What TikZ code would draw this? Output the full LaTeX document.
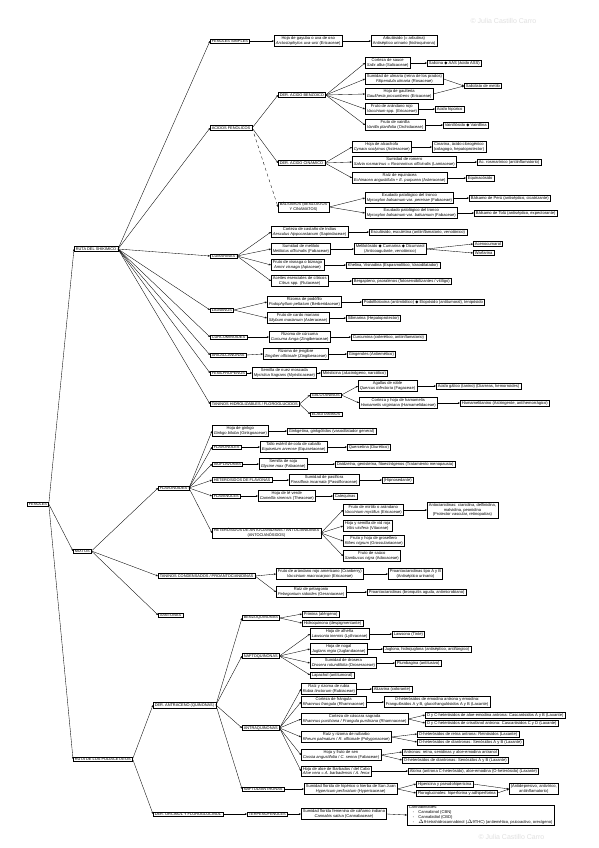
\documentclass[tikz,border=0pt]{standalone}
\usepackage{fontspec}
\setmainfont{Liberation Sans}
\newfontfamily\symf{DejaVu Sans}
\usetikzlibrary{arrows.meta,shadows}
\newcommand\dm{{\symf\char"25C6}}
\newcommand\lnk[2]{\draw[arr] (#1.east) -- (#2.west);}
\tikzset{
 bx/.style={draw, line width=0.35pt, fill=white, align=center, inner xsep=1.6pt, inner ysep=1.1pt,
   font=\fontsize{4.1}{4.8}\selectfont, anchor=west,
   drop shadow={shadow xshift=0.5pt, shadow yshift=-0.5pt, fill=black!40, opacity=1}},
 ct/.style={bx, inner ysep=0.9pt, font=\fontsize{3.9}{4.6}\selectfont},
 arr/.style={line width=0.35pt, -{Stealth[length=2.2pt,width=1.8pt]}},
 wm/.style={text=black!12, font=\fontsize{7}{8}\selectfont, anchor=west},
}
\begin{document}
\begin{tikzpicture}[x=1pt,y=-1pt]
\useasboundingbox[fill=white] (0,0) rectangle (599,848);
\node[wm] (wm1) at (467,21) {© Julia Castillo Carro};
\node[wm] (wm2) at (475,837) {© Julia Castillo Carro};
% ---------------- root and level 1
\node[ct] (fen) at (27,504) {FENOLES};
\node[ct] (vs) at (74,249) {RUTA DEL SHIKÍMICO};
\node[ct] (mx) at (73,551) {MIXTOS};
\node[ct] (pa) at (73,759) {RUTA DE LOS POLIACETATOS};
\lnk{fen}{vs}\lnk{fen}{mx}\lnk{fen}{pa}
% ---------------- shikimico
\node[ct] (fs) at (210,41) {FENOLES SIMPLES};
\node[ct] (af) at (210,128) {ÁCIDOS FENÓLICOS};
\node[ct] (cu) at (210,256) {CUMARINAS};
\node[ct] (li) at (210,310) {LIGNANOS};
\node[ct] (dh) at (210,337) {CURCUMINOIDES};
\node[ct] (aa) at (210,355) {ARILALCANONAS};
\node[ct] (fp) at (210,373) {FENILPROPENOS};
\node[ct] (th) at (210,404) {TANINOS HIDROLIZABLES / FLOROGLÚCIDOS};
\foreach \n in {fs,af,cu,li,dh,aa,fp,th} {\lnk{vs}{\n}}
% fenoles simples
\node[bx] (gay) at (274,41) {Hoja de gayuba o uva de oso\\\textit{Arctostaphylos uva-ursi} (Ericaceae)};
\node[bx] (arb) at (371,41) {Arbutósido (= arbutina)\\Antiséptico urinario (hidroquinona)};
\lnk{fs}{gay}\lnk{gay}{arb}
% acidos fenolicos
\node[ct] (dab) at (278,95) {DER. ÁCIDO BENZOICO};
\node[ct] (dac) at (278,163) {DER. ÁCIDO CINÁMICO};
\node[ct] (bal) at (278,207) {BÁLSAMOS (BENZOATOS\\Y CINAMATOS)};
\lnk{af}{dab}\lnk{af}{dac}
\draw[arr,dashed] (af.east) -- (bal.west);
\node[bx] (b1) at (365,63) {Corteza de sauce\\\textit{Salix alba} (Salicaceae)};
\node[bx] (b2) at (365,79) {Sumidad de ulmaria (reina de los prados)\\\textit{Filipendula ulmaria} (Rosaceae)};
\node[bx] (b3) at (365,94) {Hoja de gaulteria\\\textit{Gaultheria procumbens} (Ericaceae)};
\node[bx] (b4) at (365,109) {Fruto de arándano rojo\\\textit{Vaccinium} spp. (Ericaceae)};
\node[bx] (b5) at (365,125) {Fruto de vainilla\\\textit{Vanilla planifolia} (Orchidaceae)};
\node[bx] (r1) at (427,63) {Salicina \dm{} AAS (ácido ASS)};
\node[bx] (r2) at (464,86) {Salicilato de metilo};
\node[bx] (r4) at (435,109) {Ácido hipúrico};
\node[bx] (r5) at (443,125) {Vainillósido \dm{} Vainillina};
\foreach \n in {b1,b2,b3,b4,b5} {\lnk{dab}{\n}}
\lnk{b1}{r1}\lnk{b2}{r2}\lnk{b3}{r2}\lnk{b4}{r4}\lnk{b5}{r5}
\node[bx] (c1) at (352,147) {Hoja de alcachofa\\\textit{Cynara scolymus} (Asteraceae)};
\node[bx] (c2) at (352,162) {Sumidad de romero\\\textit{Salvia rosmarinus} = \textit{Rosmarinus officinalis} (Lamiaceae)};
\node[bx] (c3) at (352,178) {Raíz de equinácea\\\textit{Echinacea angustifolia} + \textit{E. purpurea} (Asteraceae)};
\node[bx] (rc1) at (432,147) {Cinarina, ácido clorogénico\\(colagogo, hepatoprotector)};
\node[bx] (rc2) at (477,162) {Ác. rosmarínico (antiinflamatorio)};
\node[bx] (rc3) at (466,178) {Equinacósido};
\foreach \n in {c1,c2,c3} {\lnk{dac}{\n}}
\lnk{c1}{rc1}\lnk{c2}{rc2}\lnk{c3}{rc3}
\node[bx] (l1) at (365,198) {Exudado patológico del tronco\\\textit{Myroxylon balsamum} var. \textit{pereirae} (Fabaceae)};
\node[bx] (l2) at (365,213) {Exudado patológico del tronco\\\textit{Myroxylon balsamum} var. \textit{balsamum} (Fabaceae)};
\node[bx] (rl1) at (469,198) {Bálsamo de Perú (antiséptico, cicatrizante)};
\node[bx] (rl2) at (474,213) {Bálsamo de Tolú (antiséptico, expectorante)};
\lnk{bal}{l1}\lnk{bal}{l2}\lnk{l1}{rl1}\lnk{l2}{rl2}
% cumarinas
\node[bx] (cu1) at (271,232) {Corteza de castaño de Indias\\\textit{Aesculus hippocastanum} (Sapindaceae)};
\node[bx] (cu2) at (271,249) {Sumidad de meliloto\\\textit{Melilotus officinalis} (Fabaceae)};
\node[bx] (cu3) at (271,265) {Fruto de visnaga o biznaga\\\textit{Ammi visnaga} (Apiaceae)};
\node[bx] (cu4) at (271,281) {Aceites esenciales de cítricos\\\textit{Citrus} spp. (Rutaceae)};
\node[bx] (rcu1) at (369,232) {Esculósido, esculetina (antiinflamatorio, venotónico)};
\node[bx] (rcu2) at (354,249) {Melilotósido \dm{} Cumarina \dm{} Dicumarol\\(Anticoagulante, venotónico)};
\node[bx] (acen) at (473,244) {Acenocumarol};
\node[bx] (warf) at (473,253) {Warfarina};
\node[bx] (rcu3) at (346,265) {Khelina, Visnadina (Espasmolítico, Vasodilatador)};
\node[bx] (rcu4) at (352,281) {Bergapteno, psoralenos (fotosensibilizantes / vitíligo)};
\foreach \n in {cu1,cu2,cu3,cu4} {\lnk{cu}{\n}}
\lnk{cu1}{rcu1}\lnk{cu2}{rcu2}\lnk{rcu2}{acen}\lnk{rcu2}{warf}\lnk{cu3}{rcu3}\lnk{cu4}{rcu4}
% lignanos etc
\node[bx] (li1) at (267,302) {Rizoma de podófilo\\\textit{Podophyllum peltatum} (Berberidaceae)};
\node[bx] (li2) at (267,318) {Fruto de cardo mariano\\\textit{Silybum marianum} (Asteraceae)};
\node[bx] (rli1) at (362,302) {Podofilotoxina (antimitótico) \dm{} Etopósido (antitumoral), tenipósido};
\node[bx] (rli2) at (346,318) {Silimarina (Hepatoprotector)};
\lnk{li}{li1}\lnk{li}{li2}\lnk{li1}{rli1}\lnk{li2}{rli2}
\node[bx] (dh1) at (269,337) {Rizoma de cúrcuma\\\textit{Curcuma longa} (Zingiberaceae)};
\node[bx] (rdh) at (351,337) {Curcumina (colerético, antiinflamatorio)};
\lnk{dh}{dh1}\lnk{dh1}{rdh}
\node[bx] (aa1) at (263,354) {Rizoma de jengibre\\\textit{Zingiber officinale} (Zingiberaceae)};
\node[bx] (raa) at (347,354) {Gingeroles (Antiemético)};
\lnk{aa}{aa1}\lnk{aa1}{raa}
\node[bx] (fp1) at (252,373) {Semilla de nuez moscada\\\textit{Myristica fragrans} (Myristicaceae)};
\node[bx] (rfp) at (321,373) {Miristicina (alucinógeno, narcótico)};
\lnk{fp}{fp1}\lnk{fp1}{rfp}
% taninos hidrolizables
\node[ct] (gal) at (310,395) {GALOTANINOS};
\node[ct] (ela) at (310,414) {ELAGITANINOS};
\lnk{th}{gal}\lnk{th}{ela}
\node[bx] (g1) at (358,386) {Agallas de roble\\\textit{Quercus infectoria} (Fagaceae)};
\node[bx] (g2) at (359,403) {Corteza y hoja de hamamelis\\\textit{Hamamelis virginiana} (Hamamelidaceae)};
\node[bx] (rg1) at (436,386) {Ácido gálico (tanino) (Diarreas, hemorroides)};
\node[bx] (rg2) at (460,403) {Hamamelitanino (Astringente, antihemorrágico)};
\lnk{gal}{g1}\lnk{gal}{g2}\lnk{g1}{rg1}\lnk{g2}{rg2}
% ---------------- mixtos
\node[ct] (fla) at (158,488) {FLAVONOIDES};
\node[ct] (tc) at (158,576) {TANINOS CONDENSADOS / PROANTOCIANIDINAS};
\node[ct] (xa) at (158,615) {XANTONAS};
\lnk{mx}{fla}\lnk{mx}{tc}\lnk{mx}{xa}
\node[bx] (f1) at (212,431) {Hoja de ginkgo\\\textit{Ginkgo biloba} (Ginkgoaceae)};
\node[ct] (f2) at (212,447) {FLAVONOLES};
\node[ct] (f3) at (212,464) {ISOFLAVONAS};
\node[ct] (f4) at (212,480) {HETERÓSIDOS DE FLAVONAS};
\node[ct] (f5) at (212,496) {FLAVANOLES};
\node[ct] (f6) at (212,533) {HETERÓSIDOS DE ANTOCIANIDINAS / ANTOCIANIDINAS\\(ANTOCIANÓSIDOS)};
\foreach \n in {f1,f2,f3,f4,f5,f6} {\lnk{fla}{\n}}
\node[bx] (rf1) at (287,431) {Ginkgetina, ginkgólidos (vasodilatador general)};
\node[bx] (f2a) at (260,447) {Tallo estéril de cola de caballo\\\textit{Equisetum arvense} (Equisetaceae)};
\node[bx] (f2r) at (347,447) {Quercetina (Diurético)};
\node[bx] (f3a) at (259,464) {Semilla de soja\\\textit{Glycine max} (Fabaceae)};
\node[bx] (f3r) at (335,464) {Daidzeína, genisteína, fitoestrógenos (Tratamiento menopausia)};
\node[bx] (f4a) at (289,480) {Sumidad de pasiflora\\\textit{Passiflora incarnata} (Passifloraceae)};
\node[bx] (f4r) at (382,480) {(Hipnosedante)};
\node[bx] (f5a) at (258,496) {Hoja de té verde\\\textit{Camellia sinensis} (Theaceae)};
\node[bx] (f5r) at (333,496) {Catequinas};
\lnk{f1}{rf1}\lnk{f2}{f2a}\lnk{f2a}{f2r}\lnk{f3}{f3a}\lnk{f3a}{f3r}
\lnk{f4}{f4a}\lnk{f4a}{f4r}\lnk{f5}{f5a}\lnk{f5a}{f5r}
\node[bx] (a1) at (343,510) {Fruto de mirtilo o arándano\\\textit{Vaccinium myrtillus} (Ericaceae)};
\node[bx] (a2) at (343,526) {Hoja y semilla de vid roja\\\textit{Vitis vinifera} (Vitaceae)};
\node[bx] (a3) at (343,541) {Fruto y hoja de grosellero\\\textit{Ribes nigrum} (Grossulariaceae)};
\node[bx] (a4) at (343,556) {Fruto de saúco\\\textit{Sambucus nigra} (Adoxaceae)};
\node[bx] (ra1) at (427,510) {Antocianidinas: cianidina, delfinidina,\\malvidina, peonidina\\(Protector vascular, retinopatías)};
\foreach \n in {a1,a2,a3,a4} {\lnk{f6}{\n}}
\lnk{a1}{ra1}
\node[bx] (t1) at (276,574) {Fruto de arándano rojo americano (Cranberry)\\\textit{Vaccinium macrocarpon} (Ericaceae)};
\node[bx] (t2) at (276,592) {Raíz de pelargonio\\\textit{Pelargonium sidoides} (Geraniaceae)};
\node[bx] (rt1) at (388,574) {Proantocianidinas tipo A y B\\(Antiséptico urinario)};
\node[bx] (rt2) at (367,592) {Proantocianidinas (bronquitis aguda, antimicrobiano)};
\lnk{tc}{t1}\lnk{tc}{t2}\lnk{t1}{rt1}\lnk{t2}{rt2}
% ---------------- poliacetatos
\node[ct] (dan) at (153,705) {DER. ANTRACENO (QUINONAS)};
\node[ct] (dof) at (153,814) {DER. ORCINOL Y FLOROGLUCINOL};
\lnk{pa}{dan}\lnk{pa}{dof}
\node[ct] (bq) at (242,618) {BENZOQUINONAS};
\node[ct] (nq) at (242,656) {NAFTOQUINONAS};
\node[ct] (aq) at (242,728) {ANTRAQUINONAS};
\node[ct] (nd) at (242,789) {NAFTODIANTRONAS};
\foreach \n in {bq,nq,aq,nd} {\lnk{dan}{\n}}
\node[bx] (bq1) at (302,614) {Primina (alérgeno)};
\node[bx] (bq2) at (302,623) {Hidroquinona (despigmentante)};
\lnk{bq}{bq1}\lnk{bq}{bq2}
\node[bx] (n1) at (310,634) {Hoja de alheña\\\textit{Lawsonia inermis} (Lythraceae)};
\node[bx] (n2) at (310,649) {Hoja de nogal\\\textit{Juglans regia} (Juglandaceae)};
\node[bx] (n3) at (310,663) {Sumidad de drosera\\\textit{Drosera rotundifolia} (Droseraceae)};
\node[bx] (n4) at (310,675) {Lapachol (antitumoral)};
\node[bx] (rn1) at (392,634) {Lawsona (Tinte)};
\node[bx] (rn2) at (383,649) {Juglona, hidrojuglona (antiséptico, antifúngico)};
\node[bx] (rn3) at (395,663) {Plumbagina (antitusivo)};
\foreach \n in {n1,n2,n3,n4} {\lnk{nq}{\n}}
\lnk{n1}{rn1}\lnk{n2}{rn2}\lnk{n3}{rn3}
\node[bx] (q1) at (301,689) {Raíz y rizoma de rubia\\\textit{Rubia tinctorum} (Rubiaceae)};
\node[bx] (q2) at (301,702) {Corteza de frángula\\\textit{Rhamnus frangula} (Rhamnaceae)};
\node[bx] (q3) at (301,719) {Corteza de cáscara sagrada\\\textit{Rhamnus purshiana} / \textit{Frangula purshiana} (Rhamnaceae)};
\node[bx] (q4) at (301,737) {Raíz y rizoma de ruibarbo\\\textit{Rheum palmatum} / \textit{R. officinale} (Polygonaceae)};
\node[bx] (q5) at (301,755) {Hoja y fruto de sen\\\textit{Cassia angustifolia} / \textit{C. senna} (Fabaceae)};
\node[bx] (q6) at (301,771) {Hoja de aloe de Barbados / del Cabo\\\textit{Aloe vera} = \textit{A. barbadensis} / \textit{A. ferox}};
\foreach \n in {q1,q2,q3,q4,q5,q6} {\lnk{aq}{\n}}
\node[bx] (rq1) at (372,689) {Alizarina (colorante)};
\node[bx] (rq2) at (384,702) {O-heterósidos de emodina antrona y emodina:\\Frangulósidos A y B, glucofrangulósidos A y B (Laxante)};
\node[bx] (rq3a) at (425,715) {O y C-heterósidos de aloe-emodina antrona: Cascarósidos A y B (Laxante)};
\node[bx] (rq3b) at (425,723) {O y C-heterósidos de crisofanol antrona: Cascarósidos C y D (Laxante)};
\node[bx] (rq4a) at (417,734) {O-heterósidos de reína antrona: Reinósidos (Laxante)};
\node[bx] (rq4b) at (417,742) {O-heterósidos de diantronas: Senósidos A y B (Laxante)};
\node[bx] (rq5a) at (402,752) {Antronas: reína, senidinas y aloe-emodina antranol};
\node[bx] (rq5b) at (402,760) {O-heterósidos de diantronas: Senósidos A y B (Laxante)};
\node[bx] (rq6) at (408,771) {Aloína (antrona C-heterósido), aloe-emodina (O-heterósido) (Laxante)};
\lnk{q1}{rq1}\lnk{q2}{rq2}\lnk{q3}{rq3a}\lnk{q3}{rq3b}\lnk{q4}{rq4a}\lnk{q4}{rq4b}
\lnk{q5}{rq5a}\lnk{q5}{rq5b}\lnk{q6}{rq6}
\node[bx] (h1) at (304,789) {Sumidad florida de hipérico o hierba de San Juan\\\textit{Hypericum perforatum} (Hypericaceae)};
\node[bx] (hr1) at (416,784) {Hipericina y pseudohipericina};
\node[bx] (hr2) at (416,793) {Floroglucinoles: hiperforina y adhiperforina};
\node[bx] (hr) at (509,789) {(Antidepresivo, antivírico,\\antiinflamatorio)};
\lnk{nd}{h1}\lnk{h1}{hr1}\lnk{h1}{hr2}\lnk{hr1}{hr}\lnk{hr2}{hr}
\node[ct] (tp) at (247,814) {TERPENOFENOLES};
\node[bx] (cs) at (301,814) {Sumidad florida femenina de cáñamo indiano\\\textit{Cannabis sativa} (Cannabaceae)};
\node[bx, align=left] (cr) at (407,815) {Cannabinoides:\\
 \quad-\quad Cannabinol (CBN)\\
 \quad-\quad Cannabidiol (CBD)\\
 \quad-\quad $\Delta$9-tetrahidrocannabinol ($\Delta$9THC) (antiemético, psicoactivo, orexígeno)};
\lnk{dof}{tp}\lnk{tp}{cs}\lnk{cs}{cr}
\end{tikzpicture}
\end{document}
